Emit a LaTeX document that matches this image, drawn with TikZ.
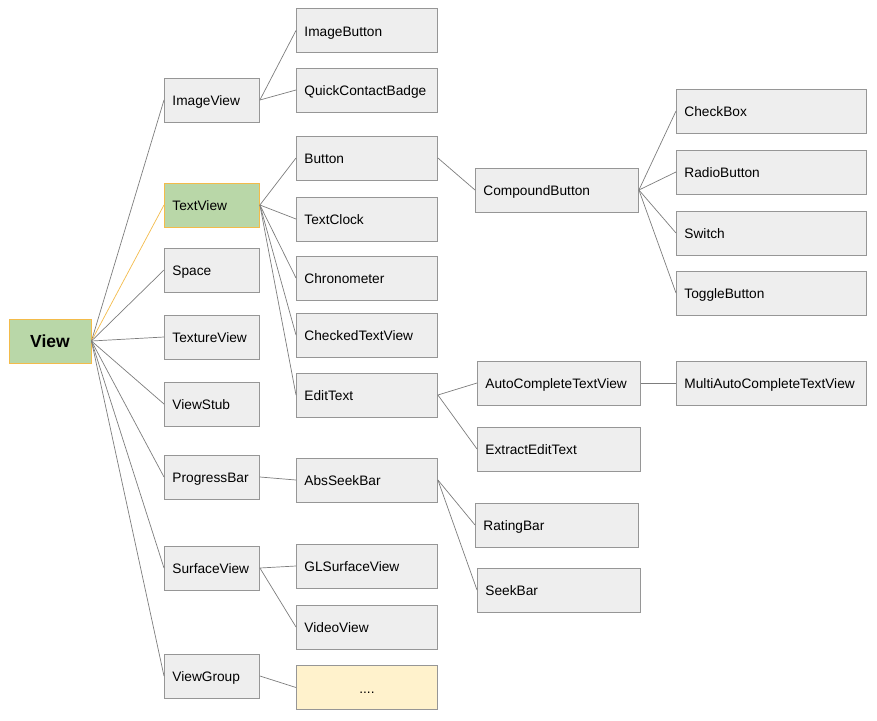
\documentclass[tikz,border=0pt]{standalone}
\usepackage{fontspec}
\setmainfont{Liberation Sans}
\definecolor{boxfill}{RGB}{238,238,238}
\definecolor{boxline}{RGB}{150,150,150}
\definecolor{linkgray}{RGB}{125,125,125}
\definecolor{viewgreen}{RGB}{185,215,168}
\definecolor{vieworange}{RGB}{243,187,74}
\definecolor{moreyellow}{RGB}{255,242,204}
\tikzset{
  cls/.style={draw=boxline,fill=boxfill,line width=0.9pt,anchor=west,align=left,
    minimum height=44pt,inner xsep=8pt,inner ysep=0pt,text height=11.2pt,text depth=0pt,
    font=\fontsize{13.7}{16}\selectfont},
  colA/.style={cls,text width=79pt},
  colB/.style={cls,text width=125pt},
  colC/.style={cls,text width=147pt},
  colD/.style={cls,text width=174pt},
  hl/.style={fill=viewgreen,draw=vieworange},
  link/.style={draw=linkgray,line width=0.7pt}
}
\begin{document}
\begin{tikzpicture}[x=1pt,y=-1pt]
\useasboundingbox (0,0) rectangle (877,720);
% root
\node[cls,hl,anchor=center,align=center,minimum width=82pt,inner xsep=0pt,
  text height=13.5pt,font=\fontsize{17.5}{20}\selectfont\bfseries] (view) at (50,341) {View};
% first level
\node[colA] (imageview) at (164,100) {ImageView};
\node[colA,hl] (textview) at (164,205) {TextView};
\node[colA] (space) at (164,270) {Space};
\node[colA] (textureview) at (164,337) {TextureView};
\node[colA] (viewstub) at (164,404) {ViewStub};
\node[colA] (progressbar) at (164,477) {ProgressBar};
\node[colA] (surfaceview) at (164,568) {SurfaceView};
\node[colA] (viewgroup) at (164,676) {ViewGroup};
% second level
\node[colB] (imagebutton) at (296,30.5) {ImageButton};
\node[colB] (quickcontact) at (296,90) {QuickContactBadge};
\node[colB] (button) at (296,158) {Button};
\node[colB] (textclock) at (296,219) {TextClock};
\node[colB] (chronometer) at (296,278) {Chronometer};
\node[colB] (checkedtext) at (296,335) {CheckedTextView};
\node[colB] (edittext) at (296,395) {EditText};
\node[colB] (absseekbar) at (296,480) {AbsSeekBar};
\node[colB] (glsurface) at (296,566) {GLSurfaceView};
\node[colB] (videoview) at (296,627) {VideoView};
\node[colB,fill=moreyellow,align=center] (more) at (296,687.5) {....};
% third level
\node[colC] (compound) at (475,190) {CompoundButton};
\node[colC] (autocomplete) at (477,383) {AutoCompleteTextView};
\node[colC] (extractedit) at (477,449) {ExtractEditText};
\node[colC] (ratingbar) at (475,525) {RatingBar};
\node[colC] (seekbar) at (477,590) {SeekBar};
% fourth level
\node[colD] (checkbox) at (676,111) {CheckBox};
\node[colD] (radiobutton) at (676,172) {RadioButton};
\node[colD] (switch) at (676,233) {Switch};
\node[colD] (togglebutton) at (676,293) {ToggleButton};
\node[colD] (multiauto) at (676,383) {MultiAutoCompleteTextView};
% links
\draw[link] (view.east)--(imageview.west);
\draw[draw=vieworange,line width=0.7pt] (view.east)--(textview.west);
\draw[link] (view.east)--(space.west);
\draw[link] (view.east)--(textureview.west);
\draw[link] (view.east)--(viewstub.west);
\draw[link] (view.east)--(progressbar.west);
\draw[link] (view.east)--(surfaceview.west);
\draw[link] (view.east)--(viewgroup.west);
\draw[link] (imageview.east)--(imagebutton.west);
\draw[link] (imageview.east)--(quickcontact.west);
\draw[link] (textview.east)--(button.west);
\draw[link] (textview.east)--(textclock.west);
\draw[link] (textview.east)--(chronometer.west);
\draw[link] (textview.east)--(checkedtext.west);
\draw[link] (textview.east)--(edittext.west);
\draw[link] (progressbar.east)--(absseekbar.west);
\draw[link] (surfaceview.east)--(glsurface.west);
\draw[link] (surfaceview.east)--(videoview.west);
\draw[link] (viewgroup.east)--(more.west);
\draw[link] (button.east)--(compound.west);
\draw[link] (edittext.east)--(autocomplete.west);
\draw[link] (edittext.east)--(extractedit.west);
\draw[link] (absseekbar.east)--(ratingbar.west);
\draw[link] (absseekbar.east)--(seekbar.west);
\draw[link] (compound.east)--(checkbox.west);
\draw[link] (compound.east)--(radiobutton.west);
\draw[link] (compound.east)--(switch.west);
\draw[link] (compound.east)--(togglebutton.west);
\draw[link] (autocomplete.east)--(multiauto.west);
\end{tikzpicture}
\end{document}
